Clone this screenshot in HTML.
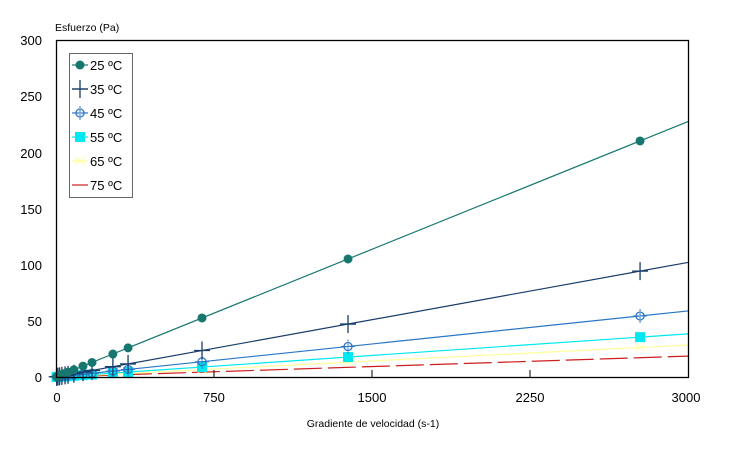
<!DOCTYPE html>
<html><head><meta charset="utf-8"><style>
body{margin:0;background:#fff;}
svg{display:block;font-family:"Liberation Sans",sans-serif;}
</style></head><body>
<svg id="s" width="744" height="452" xmlns="http://www.w3.org/2000/svg">
<rect width="744" height="452" fill="#fff"/>
<text x="55" y="31" font-size="10.5">Esfuerzo (Pa)</text>
<g font-size="13" text-anchor="end">
<text x="42" y="45">300</text><text x="42" y="101">250</text><text x="42" y="158">200</text>
<text x="42" y="214">150</text><text x="42" y="270">100</text><text x="42" y="326">50</text><text x="42" y="382">0</text>
</g>
<g font-size="13" text-anchor="middle">
<text x="57" y="402">0</text><text x="214" y="402">750</text><text x="372" y="402">1500</text>
<text x="530" y="402">2250</text><text x="686" y="402">3000</text>
</g>
<text x="373" y="427" font-size="10.5" text-anchor="middle">Gradiente de velocidad (s-1)</text>
<g id="plot"></g>
<rect x="56.5" y="40.5" width="632" height="337" fill="none" stroke="#000" stroke-width="1.3"/>
<g stroke="#000"><line x1="214" y1="377" x2="214" y2="370"/><line x1="372" y1="377" x2="372" y2="370"/><line x1="530" y1="377" x2="530" y2="370"/></g>
<rect x="69.5" y="53.5" width="63" height="144" fill="#fff" stroke="#666"/>
<g id="leg" font-size="13"></g>
</svg>
<script>
var NS="http://www.w3.org/2000/svg";
function el(p,t,a){var e=document.createElementNS(NS,t);for(var k in a)e.setAttribute(k,a[k]);p.appendChild(e);return e;}
var plot=document.getElementById('plot'),leg=document.getElementById('leg');
var X=function(v){return 56+v*0.2107;},Y=function(v){return 377-v*1.1233;};
var xs=[3,9,17,28,43,57,85,128,171,270,342,693,1386,2772];
var S=[
 {k:0.0758,c:"#17776f",m:"dot",n:"25 ºC"},
 {k:0.034,c:"#183c6a",m:"plus",n:"35 ºC"},
 {k:0.0196,c:"#2a76c6",m:"sun",n:"45 ºC"},
 {k:0.0128,c:"#00e8f0",m:"sq",n:"55 ºC"},
 {k:0.0095,c:"#ffff99",m:"x",n:"65 ºC"},
 {k:0.0062,c:"#cc1f1f",m:"none",n:"75 ºC",dash:"28 6"}
];
function mark(g,m,c,x,y){
 if(m=="dot")el(g,"circle",{cx:x,cy:y,r:4.5,fill:c});
 else if(m=="plus"){el(g,"line",{x1:x-8,y1:y,x2:x+8,y2:y,stroke:c,"stroke-width":1.3});el(g,"line",{x1:x,y1:y-9,x2:x,y2:y+9,stroke:c,"stroke-width":1.3});}
 else if(m=="sun"){el(g,"circle",{cx:x,cy:y,r:4,fill:"none",stroke:c,"stroke-width":1.3});el(g,"line",{x1:x-7,y1:y,x2:x+7,y2:y,stroke:c});el(g,"line",{x1:x,y1:y-7,x2:x,y2:y+7,stroke:c,"stroke-dasharray":"2 2"});}
 else if(m=="sq")el(g,"rect",{x:x-5,y:y-5,width:10,height:10,fill:c});
 else if(m=="x"){el(g,"line",{x1:x-5,y1:y-4,x2:x+5,y2:y+4,stroke:c});el(g,"line",{x1:x-5,y1:y+4,x2:x+5,y2:y-4,stroke:c});}
}
for(var i=S.length-1;i>=0;i--){var s=S[i];
 var a={x1:56,y1:377,x2:688,y2:Y(s.k*3000),stroke:s.c,"stroke-width":1.2};
 if(s.dash)a["stroke-dasharray"]=s.dash;
 el(plot,"line",a);
 xs.forEach(function(v){mark(plot,s.m,s.c,X(v),Y(s.k*v));});
}
S.forEach(function(s,i){var y=65+i*24;
 var a={x1:72,y1:y,x2:88,y2:y,stroke:s.c,"stroke-width":1.2};el(leg,"line",a);
 mark(leg,s.m,s.c,80,y);
 var t=el(leg,"text",{x:90,y:y+5});t.textContent=s.n;
});
</script>
</body></html>
